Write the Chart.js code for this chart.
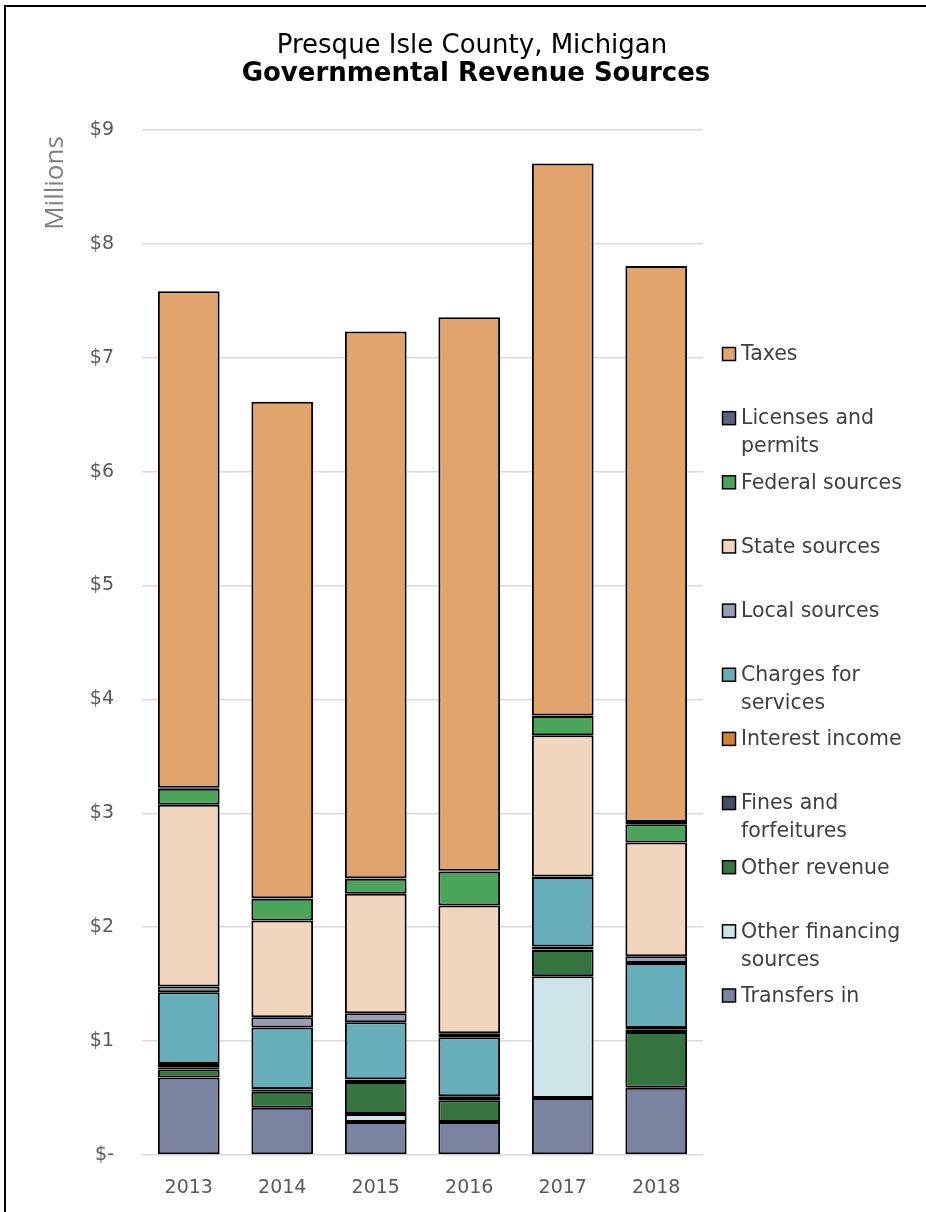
<!DOCTYPE html>
<html><head><meta charset="utf-8">
<script src="https://cdn.jsdelivr.net/npm/chart.js@4/dist/chart.umd.min.js"></script>
<style>html,body{margin:0;padding:0;background:#fff}#wrap{width:926px;height:1212px;position:relative}</style>
</head><body><div id="wrap"><canvas id="c"></canvas></div>
<script>
// ---- data (millions of dollars) ----
const years = ['2013','2014','2015','2016','2017','2018'];
const titleLine1 = 'Presque Isle County, Michigan';
const titleLine2 = 'Governmental Revenue Sources';
const unitsLabel = 'Millions';
const yTickValues = [0,1,2,3,4,5,6,7,8,9];
const seriesNames = ['Transfers in','Other financing sources','Other revenue','Fines and forfeitures','Interest income','Charges for services','Local sources','State sources','Federal sources','Licenses and permits','Taxes'];
const transfersIn        = [0.68, 0.415, 0.29, 0.29, 0.50, 0.59];
const otherFinancing     = [0.00, 0.00, 0.07, 0.00, 1.07, 0.00];
const otherRevenue       = [0.07, 0.14, 0.28, 0.19, 0.23, 0.49];
const finesForfeitures   = [0.02, 0.02, 0.02, 0.03, 0.005, 0.02];
const interestIncome     = [0.03, 0.005, 0.005, 0.005, 0.025, 0.015];
const chargesForServices = [0.63, 0.54, 0.50, 0.52, 0.61, 0.57];
const localSources       = [0.05, 0.09, 0.08, 0.035, 0.005, 0.06];
const stateSources       = [1.595, 0.85, 1.05, 1.12, 1.24, 1.00];
const federalSources     = [0.14, 0.19, 0.13, 0.30, 0.17, 0.16];
const licensesPermits    = [0.01, 0.005, 0.005, 0.005, 0.005, 0.02];
const taxes              = [4.36, 4.36, 4.80, 4.86, 4.845, 4.88];
const seriesValues = [transfersIn, otherFinancing, otherRevenue, finesForfeitures, interestIncome, chargesForServices, localSources, stateSources, federalSources, licensesPermits, taxes];
const seriesColors = ['#7A839F','#CDE4E8','#367541','#474C66','#D2812F','#66AFBA','#959DB7','#F1D5BD','#4AA55A','#5B6182','#E0A46C'];

const FONT = "'DejaVu Sans', sans-serif";
const FONT2 = "'Open Sans', sans-serif";

const datasets = seriesNames.map((n,i)=>({
  label:n, data:seriesValues[i], backgroundColor:seriesColors[i],
  borderColor:'#000', borderWidth:2, borderSkipped:false, stack:'s',
  barPercentage:0.66, categoryPercentage:1.0
}));

const decor = {
  id:'decor',
  beforeDraw(chart){
    const ctx = chart.ctx;
    ctx.save();
    ctx.fillStyle='#fff'; ctx.fillRect(0,0,chart.width,chart.height);
    ctx.strokeStyle='#000'; ctx.lineWidth=2;
    ctx.strokeRect(5,6,chart.width+20,chart.height+20);
    ctx.restore();
  },
  afterDraw(chart){
    const ctx = chart.ctx;
    ctx.save();
    // titles
    ctx.fillStyle='#000'; ctx.textAlign='center'; ctx.textBaseline='alphabetic';
    ctx.font = "26px "+FONT; ctx.fillText(titleLine1, 472, 53);
    ctx.font = "bold 26px "+FONT; ctx.fillText(titleLine2, 476, 81);
    // units label
    ctx.save();
    ctx.translate(56,183); ctx.rotate(-Math.PI/2);
    ctx.textBaseline='middle';
    ctx.fillStyle='#7f7f7f'; ctx.font="26px "+FONT2;
    ctx.fillText(unitsLabel,0,0);
    ctx.restore();
    // legend
    const ds = chart.data.datasets;
    ctx.font = "20.5px "+FONT; ctx.textAlign='left'; ctx.textBaseline='middle';
    const maxW = 178;
    for (let k=0;k<ds.length;k++){
      const d = ds[ds.length-1-k];
      const y = 354 + k*64.15;
      ctx.fillStyle = d.backgroundColor;
      ctx.fillRect(722.5,y-6.5,13,13);
      ctx.strokeStyle='#000'; ctx.lineWidth=1.5;
      ctx.strokeRect(722.5,y-6.5,13,13);
      const words = d.label.split(' ');
      const lines=[]; let cur='';
      for(const w of words){
        const t = cur? cur+' '+w : w;
        if (ctx.measureText(t).width>maxW && cur){ lines.push(cur); cur=w; } else cur=t;
      }
      lines.push(cur);
      ctx.fillStyle='#404040';
      lines.forEach((ln,j)=>ctx.fillText(ln,741,y+1+j*28));
    }
    ctx.restore();
  }
};

new Chart(document.getElementById('c'),{
  type:'bar',
  data:{labels:years, datasets},
  options:{
    responsive:true, maintainAspectRatio:false, animation:false,
    layout:{padding:{top:130,right:223,left:0,bottom:0}},
    plugins:{legend:{display:false}, title:{display:false}, tooltip:{enabled:false}},
    scales:{
      x:{stacked:true,
        grid:{display:false}, border:{display:false},
        ticks:{color:'#595959', font:{family:FONT,size:19}, padding:14},
        afterFit(s){ s.height=57; }
      },
      y:{stacked:true, min:0, max:9,
        afterBuildTicks(s){ s.ticks = yTickValues.map(v=>({value:v})); },
        grid:{color:'#d9d9d9', lineWidth:1.5, drawTicks:false},
        border:{display:false},
        ticks:{color:'#595959', font:{family:FONT,size:19}, padding:28,
          callback:v=> v===0 ? '$-' : '$'+v},
        afterFit(s){ s.width=142; }
      }
    }
  },
  plugins:[decor]
});
</script></body></html>
